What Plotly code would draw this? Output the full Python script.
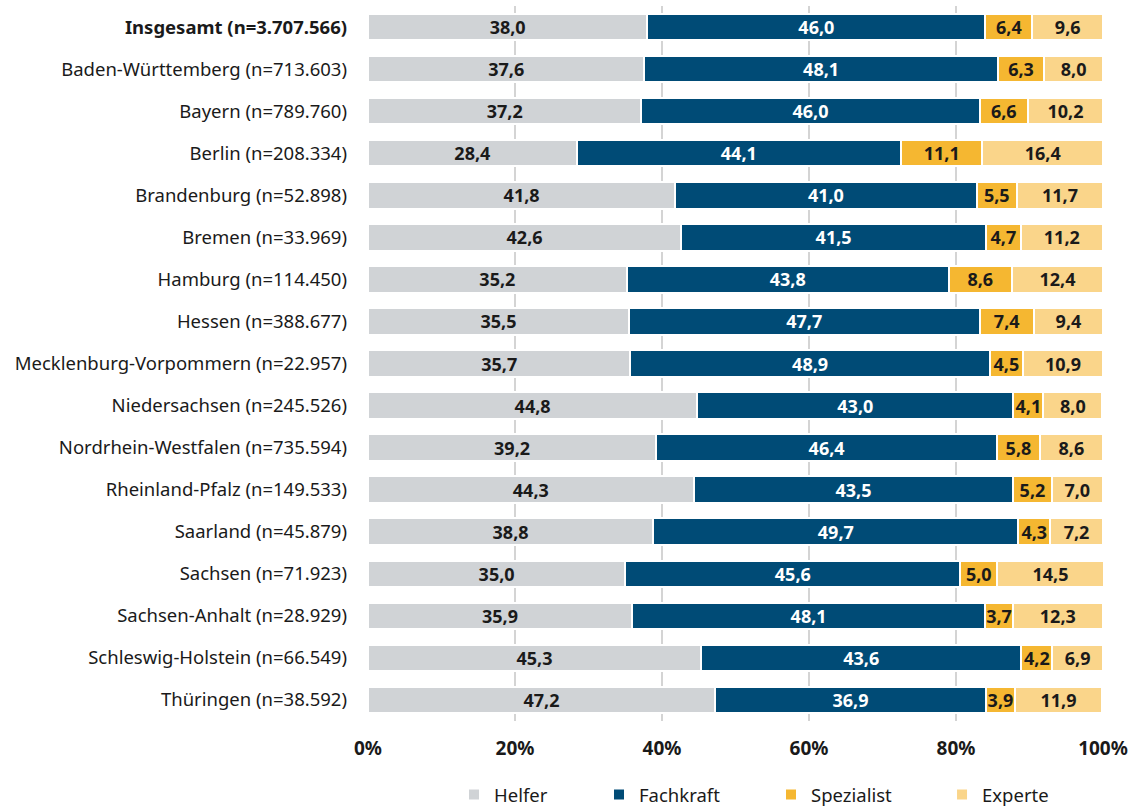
import plotly.graph_objects as go

categories = [
    "<b>Insgesamt (n=3.707.566)</b>",
    "Baden-Württemberg (n=713.603)",
    "Bayern (n=789.760)",
    "Berlin (n=208.334)",
    "Brandenburg (n=52.898)",
    "Bremen (n=33.969)",
    "Hamburg (n=114.450)",
    "Hessen (n=388.677)",
    "Mecklenburg-Vorpommern (n=22.957)",
    "Niedersachsen (n=245.526)",
    "Nordrhein-Westfalen (n=735.594)",
    "Rheinland-Pfalz (n=149.533)",
    "Saarland (n=45.879)",
    "Sachsen (n=71.923)",
    "Sachsen-Anhalt (n=28.929)",
    "Schleswig-Holstein (n=66.549)",
    "Thüringen (n=38.592)",
]
helfer = [38.0, 37.6, 37.2, 28.4, 41.8, 42.6, 35.2, 35.5, 35.7, 44.8, 39.2, 44.3, 38.8, 35.0, 35.9, 45.3, 47.2]
fachkraft = [46.0, 48.1, 46.0, 44.1, 41.0, 41.5, 43.8, 47.7, 48.9, 43.0, 46.4, 43.5, 49.7, 45.6, 48.1, 43.6, 36.9]
spezialist = [6.4, 6.3, 6.6, 11.1, 5.5, 4.7, 8.6, 7.4, 4.5, 4.1, 5.8, 5.2, 4.3, 5.0, 3.7, 4.2, 3.9]
experte = [9.6, 8.0, 10.2, 16.4, 11.7, 11.2, 12.4, 9.4, 10.9, 8.0, 8.6, 7.0, 7.2, 14.5, 12.3, 6.9, 11.9]

tick_vals = [0, 20, 40, 60, 80, 100]
tick_text = ["0%", "20%", "40%", "60%", "80%", "100%"]

series = [
    ("Helfer", helfer, "#d0d3d6", "#1a1a1a", "legend", 0.117),
    ("Fachkraft", fachkraft, "#004b76", "#ffffff", "legend2", 0.3143),
    ("Spezialist", spezialist, "#f5b731", "#1a1a1a", "legend3", 0.5483),
    ("Experte", experte, "#fad58a", "#1a1a1a", "legend4", 0.7810),
]

FONT = "Noto Sans"

def fmt(v):
    return f"{v:.1f}".replace(".", ",")

fig = go.Figure()
legend_layouts = {}
for name, vals, color, tcolor, leg, lx in series:
    fig.add_trace(go.Bar(
        name=name,
        y=categories,
        x=vals,
        orientation="h",
        marker=dict(color=color, line=dict(color="#ffffff", width=2)),
        text=[f"<b>{fmt(v)}</b>" for v in vals],
        textposition="inside",
        insidetextanchor="middle",
        textfont=dict(family=FONT, size=18, color=tcolor),
        textangle=0,
        hoverinfo="skip",
        legend=leg,
    ))
    legend_layouts[leg] = dict(
        orientation="h",
        x=lx, xanchor="left",
        yref="container",
        y=0.0149, yanchor="middle",
        font=dict(family=FONT, size=18.5, color="#1a1a1a"),
        bgcolor="rgba(0,0,0,0)",
    )

fig.update_layout(
    barmode="stack",
    bargap=0.37,
    width=1130,
    height=807,
    margin=dict(l=368, r=27, t=6, b=86, autoexpand=False),
    plot_bgcolor="#ffffff",
    paper_bgcolor="#ffffff",
    font=dict(family=FONT, size=18, color="#1a1a1a"),
    uniformtext=dict(minsize=18, mode="show"),
    showlegend=True,
    xaxis=dict(
        range=[0, 100],
        tickvals=tick_vals,
        ticktext=[f"<b>{t}</b>" for t in tick_text],
        showgrid=True,
        gridcolor="#d4d4d4",
        gridwidth=2,
        zeroline=False,
        tickfont=dict(family=FONT, size=19, color="#1a1a1a"),
        ticks="",
        ticklabelstandoff=14,
        automargin=False,
        fixedrange=True,
    ),
    yaxis=dict(
        autorange="reversed",
        ticks="",
        ticklabelstandoff=20,
        tickfont=dict(family=FONT, size=18.5, color="#1a1a1a"),
        showgrid=False,
        automargin=False,
        fixedrange=True,
    ),
    **legend_layouts,
)

fig.write_html(
    "out.html",
    config={"displayModeBar": False},
    post_script="document.body.style.margin='0';document.body.style.overflow='hidden';",
)
